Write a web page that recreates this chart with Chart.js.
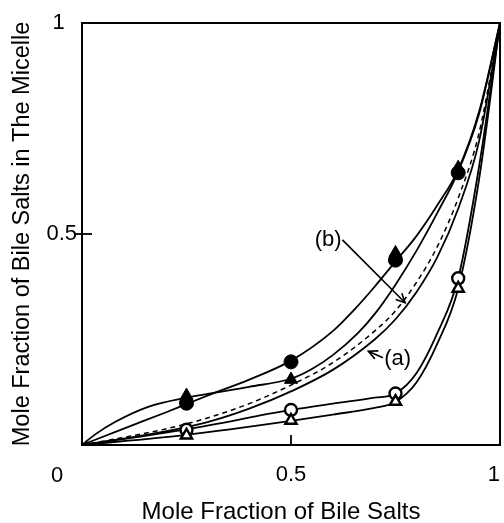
<!DOCTYPE html>
<html><head><meta charset="utf-8">
<script src="https://cdn.jsdelivr.net/npm/chart.js@4"></script>
<style>html,body{margin:0;padding:0;background:#fff;}#wrap{width:504px;height:523px;}</style>
</head><body><div id="wrap"><canvas id="c" width="504" height="523"></canvas></div>
<script>
// ---- tick labels ----
const axisTicks = [0, 0.5, 1];
const xTitle = 'Mole Fraction of Bile Salts';
const yTitle = 'Mole Fraction of Bile Salts in The Micelle';

// ---- experimental points ----
const markerX = [0.25, 0.5, 0.75, 0.9];
const filledCircleY = [0.099, 0.197, 0.438, 0.645];
const filledTriangleY = [0.117, 0.155, 0.455, 0.657];
const openCircleY = [0.036, 0.083, 0.122, 0.395];
const openTriangleY = [0.023, 0.058, 0.103, 0.371];

// ---- calculated curves ----
const curve1X = [0, 0.1, 0.2, 0.25, 0.3, 0.4, 0.5, 0.6, 0.66, 0.7, 0.75, 0.8, 0.85, 0.9, 0.95, 1];
const curve1Y = [0, 0.039, 0.077, 0.097, 0.117, 0.155, 0.2, 0.27, 0.33, 0.375, 0.435, 0.495, 0.568, 0.652, 0.79, 1];
const curve2X = [0, 0.03, 0.08, 0.16, 0.25, 0.3, 0.4, 0.5, 0.55, 0.6, 0.66, 0.7, 0.75, 0.8, 0.85, 0.9, 0.95, 1];
const curve2Y = [0, 0.024, 0.055, 0.091, 0.112, 0.121, 0.138, 0.157, 0.18, 0.213, 0.265, 0.31, 0.38, 0.46, 0.55, 0.648, 0.785, 1];
const curveBX = [0, 0.1, 0.2, 0.3, 0.4, 0.5, 0.6, 0.7, 0.75, 0.8, 0.85, 0.9, 0.95, 1];
const curveBY = [0, 0.018, 0.038, 0.064, 0.098, 0.142, 0.195, 0.27, 0.318, 0.385, 0.47, 0.585, 0.74, 1];
const curveAX = [0, 0.1, 0.2, 0.3, 0.4, 0.5, 0.6, 0.7, 0.75, 0.8, 0.85, 0.9, 0.95, 1];
const curveAY = [0, 0.015, 0.032, 0.054, 0.086, 0.127, 0.178, 0.25, 0.298, 0.362, 0.445, 0.56, 0.72, 1];
const curveOCX = [0, 0.25, 0.5, 0.6, 0.7, 0.75, 0.8, 0.85, 0.9, 0.95, 1];
const curveOCY = [0, 0.037, 0.083, 0.098, 0.112, 0.122, 0.17, 0.265, 0.395, 0.66, 1];
const curveOTX = [0, 0.25, 0.5, 0.6, 0.7, 0.75, 0.8, 0.85, 0.9, 0.95, 1];
const curveOTY = [0, 0.024, 0.057, 0.072, 0.088, 0.102, 0.148, 0.24, 0.371, 0.63, 1];

// ---- annotations (data units) ----
const annText = ['(a)', '(b)'];
const annTextX = [0.755, 0.589];
const annTextY = [0.204, 0.486];
const arrowFromX = [0.72, 0.623];
const arrowFromY = [0.207, 0.486];
const arrowToX = [0.685, 0.773];
const arrowToY = [0.222, 0.337];

const FONT = '"Liberation Sans", Arial, sans-serif';
const pts = (xs, ys) => xs.map((x, i) => ({x: x, y: ys[i]}));

function lineDs(xs, ys, dash, w) {
  return {data: pts(xs, ys), showLine: true, pointRadius: 0, borderColor: '#000',
    borderWidth: w || 1.8, borderDash: dash || [], cubicInterpolationMode: 'monotone',
    fill: false, order: 2};
}
function markDs(ys, style, fill, r, bw) {
  return {data: pts(markerX, ys), showLine: false, pointStyle: style, pointRadius: r,
    pointBackgroundColor: fill, pointBorderColor: '#000', pointBorderWidth: bw, order: 1};
}

const decor = {
  id: 'decor',
  afterDatasetsDraw(chart) {
    const ctx = chart.ctx, xs = chart.scales.x, ys = chart.scales.y, a = chart.chartArea;
    ctx.save();
    ctx.strokeStyle = '#000';
    ctx.lineWidth = 2;
    ctx.strokeRect(a.left, a.top, a.right - a.left, a.bottom - a.top);
    ctx.lineWidth = 1.8;
    const xm = xs.getPixelForValue(axisTicks[1]);
    ctx.beginPath(); ctx.moveTo(xm, a.bottom); ctx.lineTo(xm, a.bottom - 10); ctx.stroke();
    const ym = ys.getPixelForValue(axisTicks[1]);
    ctx.beginPath(); ctx.moveTo(a.left - 7, ym); ctx.lineTo(a.left + 10, ym); ctx.stroke();
    ctx.fillStyle = '#000';
    ctx.font = '22px ' + FONT;
    ctx.textAlign = 'center'; ctx.textBaseline = 'middle';
    ctx.fillText(String(axisTicks[0]), xs.getPixelForValue(axisTicks[0]) - 25, a.bottom + 31);
    for (let i = 0; i < annText.length; i++) {
      ctx.fillText(annText[i], xs.getPixelForValue(annTextX[i]), ys.getPixelForValue(annTextY[i]));
      const x0 = xs.getPixelForValue(arrowFromX[i]), y0 = ys.getPixelForValue(arrowFromY[i]);
      const x1 = xs.getPixelForValue(arrowToX[i]), y1 = ys.getPixelForValue(arrowToY[i]);
      ctx.lineWidth = 1.6;
      ctx.beginPath(); ctx.moveTo(x0, y0); ctx.lineTo(x1, y1); ctx.stroke();
      const ang = Math.atan2(y1 - y0, x1 - x0), L = 10, s = 0.45;
      ctx.beginPath();
      ctx.moveTo(x1 - L * Math.cos(ang - s), y1 - L * Math.sin(ang - s));
      ctx.lineTo(x1, y1);
      ctx.lineTo(x1 - L * Math.cos(ang + s), y1 - L * Math.sin(ang + s));
      ctx.stroke();
    }
    ctx.restore();
  }
};

new Chart(document.getElementById('c'), {
  type: 'scatter',
  data: {datasets: [
    markDs(filledTriangleY, 'triangle', '#000', 7.5, 1),
    markDs(filledCircleY, 'circle', '#000', 7, 1),
    markDs(openTriangleY, 'triangle', '#fff', 6.5, 2.4),
    markDs(openCircleY, 'circle', '#fff', 6, 2.4),
    lineDs(curve1X, curve1Y),
    lineDs(curve2X, curve2Y),
    lineDs(curveBX, curveBY, [5, 4], 1.5),
    lineDs(curveAX, curveAY),
    lineDs(curveOCX, curveOCY),
    lineDs(curveOTX, curveOTY)
  ]},
  options: {
    responsive: false, animation: false,
    layout: {autoPadding: false, padding: {top: 23, right: 4, left: 0, bottom: 0}},
    plugins: {legend: {display: false}, tooltip: {enabled: false}},
    scales: {
      x: {
        type: 'linear', min: 0, max: 1,
        afterBuildTicks: s => { s.ticks = axisTicks.map(v => ({value: v})); },
        afterFit: s => { s.height = 78; },
        grid: {display: false, drawTicks: true, tickLength: 13}, border: {display: false},
        ticks: {color: '#000', font: {family: FONT, size: 22}, padding: 4, maxRotation: 0, align: 'inner',
          callback: v => (v === 0 ? '' : String(v))},
        title: {display: true, text: xTitle + '   ', color: '#000', font: {family: FONT, size: 24, lineHeight: 0.9}, padding: {top: 0, bottom: 0}}
      },
      y: {
        type: 'linear', min: 0, max: 1,
        afterBuildTicks: s => { s.ticks = axisTicks.map(v => ({value: v})); },
        afterFit: s => { s.width = 82; },
        grid: {display: false, drawTicks: false, tickLength: 0}, border: {display: false},
        ticks: {color: '#000', font: {family: FONT, size: 22}, padding: 5, crossAlign: 'near',
          callback: v => (v === 0 ? '' : (v === 1 ? '1  ' : String(v)))},
        title: {display: true, text: yTitle, color: '#000', font: {family: FONT, size: 23.5}, padding: {top: 8, bottom: 0}}
      }
    }
  },
  plugins: [decor]
});
</script></body></html>
